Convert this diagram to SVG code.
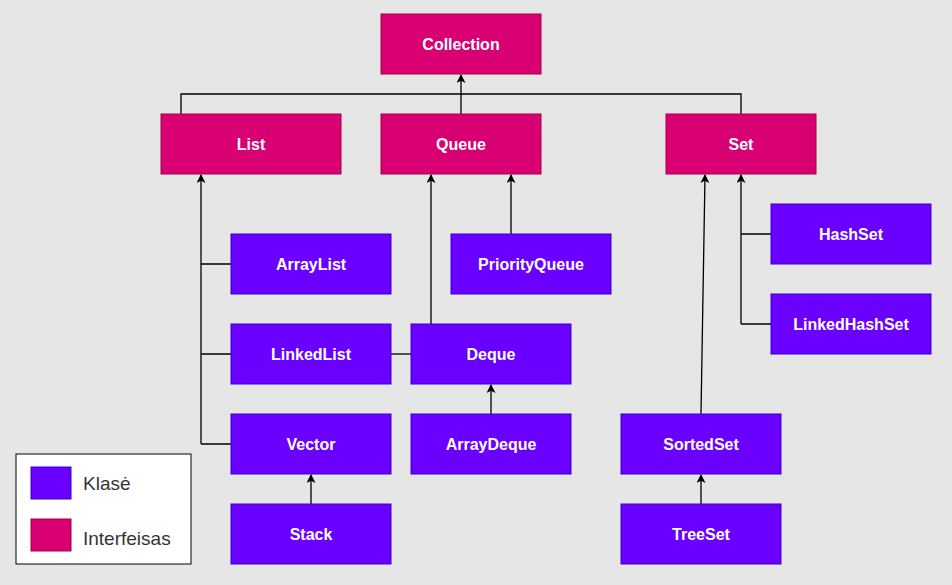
<svg xmlns="http://www.w3.org/2000/svg" width="952" height="585" viewBox="0 0 952 585">
<defs>
<style>
.cls rect{fill:#6A00FF;stroke:#3700CC;stroke-width:1}
.ifc rect{fill:#D80073;stroke:#A50040;stroke-width:1}
.node text{fill:#FFFFFF;font-family:"Liberation Sans",Arial,sans-serif;font-size:16px;font-weight:bold;text-anchor:middle;dominant-baseline:central}
.edge{fill:none;stroke:#000000;stroke-width:1.3}
.leg{font-family:"Liberation Sans",Arial,sans-serif;font-size:19px;fill:#333333}
</style>
<marker id="arr" viewBox="0 0 10 10" refX="9" refY="5" markerWidth="10" markerHeight="9" markerUnits="userSpaceOnUse" orient="auto">
<path d="M0,0 L10,5 L0,10 L2.5,5 Z" fill="#000000"/>
</marker>
</defs>
<rect x="0" y="0" width="952" height="585" fill="#E6E6E6"/>
<g id="connectors">
<path class="edge" d="M181,114 V94 H741 V114"/>
<path class="edge" d="M461,114 V75" marker-end="url(#arr)"/>
<path class="edge" d="M201,444 V175" marker-end="url(#arr)"/>
<path class="edge" d="M201,264 H231 M201,354 H231 M201,444 H231"/>
<path class="edge" d="M431,324 V175" marker-end="url(#arr)"/>
<path class="edge" d="M391,354 H411"/>
<path class="edge" d="M511,234 V175" marker-end="url(#arr)"/>
<path class="edge" d="M701,414 L705,175" marker-end="url(#arr)"/>
<path class="edge" d="M741,324 V175" marker-end="url(#arr)"/>
<path class="edge" d="M741,234 H771 M741,324 H771"/>
<path class="edge" d="M491,414 V385" marker-end="url(#arr)"/>
<path class="edge" d="M311,504 V475" marker-end="url(#arr)"/>
<path class="edge" d="M701,504 V475" marker-end="url(#arr)"/>
</g>
<g id="Collection" class="node ifc"><rect x="381" y="14" width="160" height="60"/><text x="461" y="44">Collection</text></g>
<g id="List" class="node ifc"><rect x="161" y="114" width="180" height="60"/><text x="251" y="144">List</text></g>
<g id="Queue" class="node ifc"><rect x="381" y="114" width="160" height="60"/><text x="461" y="144">Queue</text></g>
<g id="Set" class="node ifc"><rect x="666" y="114" width="150" height="60"/><text x="741" y="144">Set</text></g>
<g id="ArrayList" class="node cls"><rect x="231" y="234" width="160" height="60"/><text x="311" y="264">ArrayList</text></g>
<g id="LinkedList" class="node cls"><rect x="231" y="324" width="160" height="60"/><text x="311" y="354">LinkedList</text></g>
<g id="Vector" class="node cls"><rect x="231" y="414" width="160" height="60"/><text x="311" y="444">Vector</text></g>
<g id="Stack" class="node cls"><rect x="231" y="504" width="160" height="60"/><text x="311" y="534">Stack</text></g>
<g id="PriorityQueue" class="node cls"><rect x="451" y="234" width="160" height="60"/><text x="531" y="264">PriorityQueue</text></g>
<g id="Deque" class="node cls"><rect x="411" y="324" width="160" height="60"/><text x="491" y="354">Deque</text></g>
<g id="ArrayDeque" class="node cls"><rect x="411" y="414" width="160" height="60"/><text x="491" y="444">ArrayDeque</text></g>
<g id="SortedSet" class="node cls"><rect x="621" y="414" width="160" height="60"/><text x="701" y="444">SortedSet</text></g>
<g id="TreeSet" class="node cls"><rect x="621" y="504" width="160" height="60"/><text x="701" y="534">TreeSet</text></g>
<g id="HashSet" class="node cls"><rect x="771" y="204" width="160" height="60"/><text x="851" y="234">HashSet</text></g>
<g id="LinkedHashSet" class="node cls"><rect x="771" y="294" width="160" height="60"/><text x="851" y="324">LinkedHashSet</text></g>
<g id="legend">
<rect x="16" y="454" width="175" height="110" fill="#FFFFFF" stroke="#000000" stroke-width="1"/>
<rect x="31" y="467" width="40" height="32" fill="#6A00FF" stroke="#3700CC"/>
<rect x="31" y="519" width="40" height="32" fill="#D80073" stroke="#A50040"/>
<text class="leg" x="83" y="490">Klasė</text>
<text class="leg" x="83" y="545">Interfeisas</text>
</g>
</svg>
